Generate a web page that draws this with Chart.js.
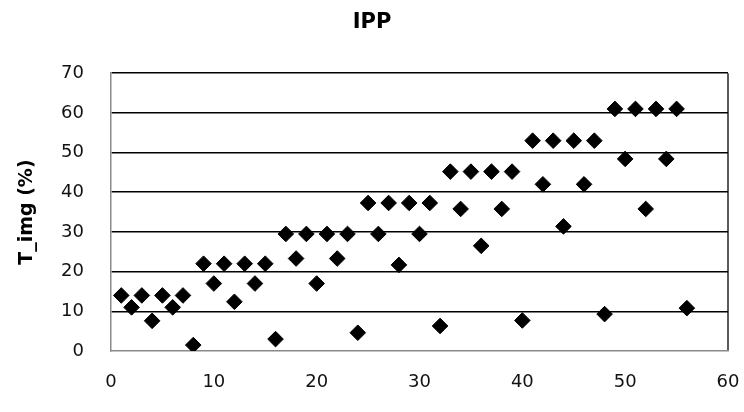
<!DOCTYPE html>
<html>
<head>
<meta charset="utf-8">
<title>IPP</title>
<script src="https://cdn.jsdelivr.net/npm/chart.js@4/dist/chart.umd.min.js"></script>
<style>
  html, body { margin: 0; padding: 0; background: #ffffff; }
  #wrap { width: 744px; height: 412px; position: relative; }
</style>
</head>
<body>
<div id="wrap"><canvas id="chart" width="744" height="412"></canvas></div>
<script>
// Sample index (x) and measured T_img in percent (y)
const sampleIndex = [
  1, 2, 3, 4, 5, 6, 7, 8,
  9, 10, 11, 12, 13, 14, 15, 16,
  17, 18, 19, 20, 21, 22, 23, 24,
  25, 26, 27, 28, 29, 30, 31, 32,
  33, 34, 35, 36, 37, 38, 39, 40,
  41, 42, 43, 44, 45, 46, 47, 48,
  49, 50, 51, 52, 53, 54, 55, 56
];
const tImg = [
  14, 11, 14, 7.6, 14, 11, 14, 1.5,
  22, 17, 22, 12.4, 22, 17, 22, 3,
  29.5, 23.3, 29.5, 17, 29.5, 23.3, 29.5, 4.6,
  37.3, 29.5, 37.3, 21.7, 37.3, 29.5, 37.3, 6.3,
  45.2, 35.8, 45.2, 26.5, 45.2, 35.8, 45.2, 7.7,
  53, 42, 53, 31.4, 53, 42, 53, 9.3,
  61, 48.4, 61, 35.8, 61, 48.4, 61, 10.8
];
const chartTitle = 'IPP';
const yAxisTitle = 'T_img (%)';
const xRange = [0, 60];
const yRange = [0, 70];

const points = sampleIndex.map((x, i) => ({ x: x, y: tImg[i] }));
const FONT = '"DejaVu Sans", sans-serif';

new Chart(document.getElementById('chart'), {
  type: 'scatter',
  data: {
    datasets: [{
      data: points,
      pointStyle: 'rectRot',
      pointRadius: 7.8,
      pointHoverRadius: 7.8,
      backgroundColor: '#000000',
      borderColor: '#000000',
      borderWidth: 1
    }]
  },
  options: {
    responsive: false,
    animation: false,
    events: [],
    layout: { padding: { left: 1, right: 1, top: 0, bottom: 0 } },
    plugins: {
      legend: { display: false },
      tooltip: { enabled: false },
      title: {
        display: true,
        text: chartTitle,
        color: '#000000',
        font: { family: FONT, size: 21, weight: 'bold' },
        padding: { top: 10, bottom: 38 }
      }
    },
    scales: {
      x: {
        type: 'linear',
        min: xRange[0],
        max: xRange[1],
        // fixed axis band and right inset so the plot box ends at x = 60
        afterFit: (s) => { s.height = 61; s.paddingRight = 16; s.paddingLeft = 0; },
        ticks: {
          stepSize: 10,
          color: '#111111',
          font: { family: FONT, size: 18 },
          padding: 21,
          maxRotation: 0
        },
        grid: {
          drawTicks: false,
          lineWidth: 2,
          color: (c) => (c.tick && c.tick.value === xRange[1]) ? '#5a5a5a' : 'rgba(0,0,0,0)'
        },
        border: { color: '#8a8a8a', width: 1.5 }
      },
      y: {
        type: 'linear',
        min: yRange[0],
        max: yRange[1],
        afterFit: (s) => { s.width = 110; },
        ticks: {
          stepSize: 10,
          color: '#111111',
          font: { family: FONT, size: 18 },
          padding: 27
        },
        grid: {
          drawTicks: false,
          lineWidth: 1.6,
          color: (c) => (c.tick && c.tick.value === yRange[0]) ? 'rgba(0,0,0,0)' : '#000000'
        },
        border: { color: '#8a8a8a', width: 1.5 },
        title: {
          display: true,
          text: yAxisTitle,
          color: '#000000',
          font: { family: FONT, size: 19, weight: 'bold' },
          padding: { top: 15, bottom: 0 }
        }
      }
    }
  }
});
</script>
</body>
</html>
